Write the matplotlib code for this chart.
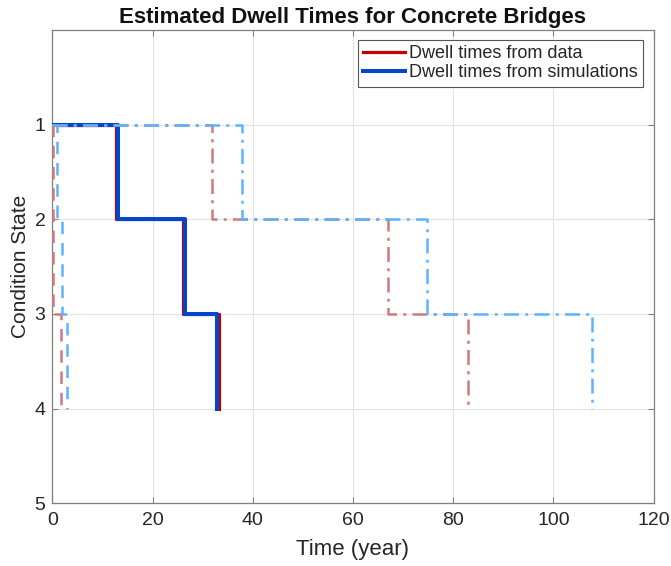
import matplotlib
matplotlib.use("Agg")
import matplotlib.pyplot as plt

plt.rcParams['font.family'] = ['Liberation Sans', 'DejaVu Sans']

# Transition times (years) out of condition states 1, 2 and 3
states = [1, 2, 3, 4]
data_mean = [12.7, 26.0, 33.3]
sim_mean = [13.2, 26.5, 32.8]
data_lower = [0.1, 0.2, 1.8]
sim_lower = [0.85, 1.9, 2.85]
data_upper = [31.8, 66.9, 83.0]
sim_upper = [37.9, 74.7, 107.8]

x_ticks = [0, 20, 40, 60, 80, 100, 120]
y_ticks = [1, 2, 3, 4, 5]

C_DATA = '#C00000'
C_SIM = '#0047CC'
C_DATA_LIGHT = '#CD7B7B'
C_SIM_LIGHT = '#5CB3FF'
AX_GRAY = '#808080'
TXT = '#262626'


def staircase(times):
    xs, ys = [0.0], [states[0]]
    for i, t in enumerate(times):
        xs += [t, t]
        ys += [states[i], states[i + 1]]
    return xs, ys


fig = plt.figure(figsize=(6.71, 5.66), dpi=100)
ax = fig.add_axes([0.078, 0.111, 0.896, 0.836])

x, y = staircase(data_mean)
ax.plot(x, y, color=C_DATA, lw=2.3, zorder=3, label='Dwell times from data')
x, y = staircase(sim_mean)
ax.plot(x, y, color=C_SIM, lw=2.9, zorder=3, label='Dwell times from simulations')

dashed = (0, (5, 3.5))
dashdot = (0, (6, 2.5, 1.2, 2.5))
x, y = staircase(data_lower)
ax.plot(x, y, color=C_DATA_LIGHT, lw=1.8, ls=dashed, zorder=4)
x, y = staircase(sim_lower)
ax.plot(x, y, color=C_SIM_LIGHT, lw=1.8, ls=dashed, zorder=4)
x, y = staircase(data_upper)
ax.plot(x, y, color=C_DATA_LIGHT, lw=1.8, ls=dashdot, zorder=4)
x, y = staircase(sim_upper)
ax.plot(x, y, color=C_SIM_LIGHT, lw=1.8, ls=dashdot, zorder=5)

ax.set_xlim(0, 120)
ax.set_ylim(5, 0)
ax.set_xticks(x_ticks)
ax.set_yticks(y_ticks)
ax.grid(True, color='#e3e3e3', lw=0.8)
ax.set_axisbelow(True)

for sp in ax.spines.values():
    sp.set_color(AX_GRAY)
    sp.set_linewidth(0.9)
ax.tick_params(direction='in', length=4, width=0.8, color=AX_GRAY,
               top=True, right=True, labelsize=14, labelcolor=TXT)
ax.tick_params(axis='x', pad=6.5)
ax.tick_params(axis='y', pad=5)

ax.set_xlabel('Time (year)', fontsize=16, color=TXT, labelpad=7)
ax.set_ylabel('Condition State', fontsize=15, color=TXT, labelpad=3)
ax.set_title('Estimated Dwell Times for Concrete Bridges', fontsize=16,
             fontweight='bold', color='#111111', pad=5)

leg = ax.legend(loc='upper right', fontsize=13, handlelength=2.3,
                handletextpad=0.2, borderpad=0.3, labelspacing=0.1,
                borderaxespad=0, fancybox=False, framealpha=1,
                edgecolor='#555555', bbox_to_anchor=(0.982, 0.979))
leg.get_frame().set_linewidth(0.8)
for t in leg.get_texts():
    t.set_color(TXT)

fig.savefig('out.png', dpi=100)
